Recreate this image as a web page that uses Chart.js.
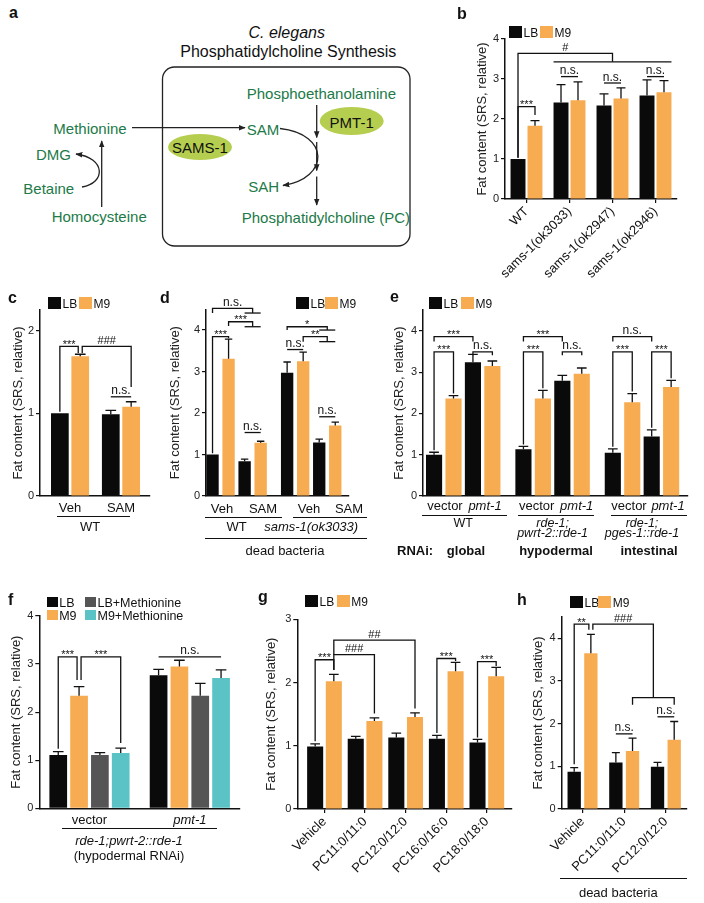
<!DOCTYPE html>
<html>
<head>
<meta charset="utf-8">
<script src="https://cdn.jsdelivr.net/npm/chart.js@4.4.1/dist/chart.umd.min.js"></script>
<style>
  body { margin: 0; background: #fff; }
  #page { position: relative; width: 704px; height: 903px; overflow: hidden;
          font-family: "Liberation Sans", Arial, sans-serif; color: #111; }
  #page canvas { position: absolute; }
  .t { position: absolute; white-space: nowrap; }
  .ln { position: absolute; height: 0; border-top: 1.3px solid #111; }
  .sq { position: absolute; }
</style>
</head>
<body>
<div id="page"></div>
<script>
// ---- data ----
const bCats = ['WT', 'sams-1(ok3033)', 'sams-1(ok2947)', 'sams-1(ok2946)'];
const bLB = [1.0, 2.41, 2.34, 2.59];
const bLBerr = [0, 0.45, 0.29, 0.39];
const bM9 = [1.83, 2.47, 2.51, 2.67];
const bM9err = [0.13, 0.46, 0.27, 0.29];

const cCats = ['Veh', 'SAM'];
const cLB = [1.0, 0.99];
const cLBerr = [0, 0.045];
const cM9 = [1.69, 1.08];
const cM9err = [0.025, 0.06];

const dCats = ['WT', 'sams-1(ok3033)'];
const dVehLB = [1.0, 2.97];
const dVehLBerr = [0, 0.26];
const dVehM9 = [3.31, 3.25];
const dVehM9err = [0.47, 0.22];
const dSamLB = [0.84, 1.29];
const dSamLBerr = [0.05, 0.08];
const dSamM9 = [1.285, 1.70];
const dSamM9err = [0.035, 0.08];

const eCats = ['WT', ['rde-1;', 'pwrt-2::rde-1'], ['rde-1;', 'pges-1::rde-1']];
const eVecLB = [1.0, 1.13, 1.05];
const eVecLBerr = [0.06, 0.07, 0.09];
const eVecM9 = [2.36, 2.36, 2.27];
const eVecM9err = [0.07, 0.2, 0.21];
const ePmtLB = [3.24, 2.79, 1.44];
const ePmtLBerr = [0.19, 0.13, 0.16];
const ePmtM9 = [3.15, 2.96, 2.64];
const ePmtM9err = [0.12, 0.14, 0.16];

const fCats = ['vector', 'pmt-1'];
const fLB = [1.11, 2.77];
const fLBerr = [0.07, 0.12];
const fM9 = [2.34, 2.95];
const fM9err = [0.19, 0.13];
const fLBMet = [1.11, 2.34];
const fLBMeterr = [0.05, 0.26];
const fM9Met = [1.15, 2.71];
const fM9Meterr = [0.10, 0.17];

const gCats = ['Vehicle', 'PC11:0/11:0', 'PC12:0/12:0', 'PC16:0/16:0', 'PC18:0/18:0'];
const gLB = [0.99, 1.11, 1.13, 1.11, 1.05];
const gLBerr = [0.04, 0.04, 0.07, 0.055, 0.05];
const gM9 = [2.02, 1.39, 1.455, 2.18, 2.10];
const gM9err = [0.11, 0.05, 0.065, 0.14, 0.14];

const hCats = ['Vehicle', 'PC11:0/11:0', 'PC12:0/12:0'];
const hLB = [0.87, 1.09, 0.99];
const hLBerr = [0.10, 0.23, 0.10];
const hM9 = [3.65, 1.36, 1.625];
const hM9err = [0.44, 0.30, 0.425];

const yTitle = 'Fat content (SRS, relative)';

// ---- colours ----
const BLACK = '#0a0a0a', ORANGE = '#f8ac52', GRAY = '#555555', TEAL = '#5bc3c6';
const GREEN = '#217a48', LIME = '#b6ce4f';
const F = '"Liberation Sans", Arial, sans-serif';
Chart.defaults.font.family = F;
Chart.defaults.color = '#111';

const page = document.getElementById('page');

// ---- html text helpers ----
function T(x, y, s, o = {}) {
  const el = document.createElement('div');
  el.className = 't';
  el.textContent = s;
  const fs = o.fs || 13;
  el.style.fontSize = fs + 'px';
  el.style.lineHeight = fs + 'px';
  el.style.top = (o.bl ? y - 0.85 * fs : y - fs / 2) + 'px';
  el.style.left = x + 'px';
  if (o.c) el.style.transform = 'translateX(-50%)';
  if (o.i) el.style.fontStyle = 'italic';
  if (o.b) el.style.fontWeight = 'bold';
  if (o.col) el.style.color = o.col;
  page.appendChild(el);
}
function L(x1, x2, y) {
  const el = document.createElement('div');
  el.className = 'ln';
  el.style.left = x1 + 'px';
  el.style.width = (x2 - x1) + 'px';
  el.style.top = y + 'px';
  page.appendChild(el);
}
function key(x, y, col, label, w = 13, h = 12, fs = 12) {
  const el = document.createElement('div');
  el.className = 'sq';
  Object.assign(el.style, { left: x + 'px', top: y + 'px', width: w + 'px', height: h + 'px', background: col });
  page.appendChild(el);
  T(x + w + 1.5, y + h / 2 + 0.5, label, { fs });
}

// ---- bracket / error bar plugin ----
const mid = (p, q) => ({ m: [p, q] });
const br = (A, B, y, yA, yB, t) => ({ paths: [[[A, yA], [A, y], [B, y], [B, yB]]], t, at: mid(A, B), y });
const ln = (A, B, y, t) => ({ paths: [[[A, y], [B, y]]], t, at: mid(A, B), y });
const fork = (A, yA, y, B1, B2, yF, yL, t) => {
  const C = mid(B1, B2);
  const low = yL == null ? [[B1, yF], [B2, yF]] : [[B1, yL], [B1, yF], [B2, yF], [B2, yL]];
  return { paths: [[[A, yA], [A, y], [C, y], [C, yF]], low], t, at: mid(A, C), y };
};

const marks = {
  id: 'marks',
  afterDatasetsDraw(chart) {
    const ctx = chart.ctx, ys = chart.scales.y;
    ctx.save();
    ctx.strokeStyle = '#111';
    ctx.fillStyle = '#111';
    ctx.lineWidth = 1.3;
    chart.data.datasets.forEach((ds, d) => {
      const meta = chart.getDatasetMeta(d);
      ds.err.forEach((e, i) => {
        if (!e) return;
        const b = meta.data[i];
        const top = ys.getPixelForValue(ds.data[i] + e);
        const cw = b.width * 0.6;
        ctx.beginPath();
        ctx.moveTo(b.x, b.y); ctx.lineTo(b.x, top);
        ctx.moveTo(b.x - cw / 2, top); ctx.lineTo(b.x + cw / 2, top);
        ctx.stroke();
      });
    });
    const X = a => {
      if (a.m) return (X(a.m[0]) + X(a.m[1])) / 2;
      const b = chart.getDatasetMeta(a[0]).data[a[1]];
      return b.x + (a[2] || 0) * b.width / 2 + (a[3] || 0);
    };
    (chart.canvas.notes || []).forEach(n => {
      n.paths.forEach(p => {
        ctx.beginPath();
        p.forEach(([a, v], k) => {
          const x = X(a), y = ys.getPixelForValue(v);
          if (k) ctx.lineTo(x, y); else ctx.moveTo(x, y);
        });
        ctx.stroke();
      });
      if (n.t) {
        const star = n.t[0] === '*';
        ctx.font = (n.t[0] === 'n' ? 12 : 11) + 'px ' + F;
        ctx.textAlign = 'center';
        ctx.textBaseline = 'alphabetic';
        ctx.fillText(n.t, X(n.at), ys.getPixelForValue(n.y) + (star ? 1.5 : -2.5));
      }
    });
    ctx.restore();
  }
};

// ---- one chart panel ----
function panel(box, plot, cfg) {
  const cv = document.createElement('canvas');
  cv.width = box.w; cv.height = box.h;
  cv.style.left = box.x + 'px';
  cv.style.top = box.y + 'px';
  cv.notes = cfg.notes;
  page.appendChild(cv);
  const W = cfg.titleOff + 7.8;
  const H = box.y + box.h - plot.b - 2;   // x-scale box runs to the canvas bottom so labels are not clipped
  const pad = {
    left: plot.l - box.x - W,
    top: plot.t - box.y,
    right: box.x + box.w - plot.r,
    bottom: 2
  };
  const xt = cfg.xt || {};
  const padL = cfg.padL || 0, padR = cfg.padR || 0;
  return new Chart(cv, {
    type: 'bar',
    data: {
      labels: cfg.labels,
      datasets: cfg.sets.map(s => ({
        label: s[0], data: s[1], err: s[2], backgroundColor: s[3], borderWidth: 0,
        categoryPercentage: cfg.cat, barPercentage: cfg.bar
      }))
    },
    options: {
      responsive: false, animation: false, devicePixelRatio: 1,
      layout: { padding: pad, autoPadding: false },
      plugins: { legend: { display: false }, tooltip: { enabled: false } },
      scales: {
        x: {
          border: { color: '#111', width: 1.5 },
          grid: { display: !!xt.marks, drawOnChartArea: false, offset: false,
                  drawTicks: !!xt.marks, tickLength: xt.marks ? 4 : 0, color: '#111', lineWidth: 1.2 },
          ticks: {
            autoSkip: false,
            maxRotation: xt.rot || 0, minRotation: xt.rot || 0,
            padding: xt.pad || 2,
            color: '#111',
            font: c => ({ size: xt.fs || 13, family: F, lineHeight: xt.lh || 1.2,
                          style: (xt.ital || []).includes(c.index) ? 'italic' : 'normal' })
          },
          afterFit: s => { s.height = H; },
          afterBuildTicks: s => {
            if (s._startValue !== undefined) { s._startValue -= padL; s._valueRange += padL + padR; }
          }
        },
        y: {
          min: 0, max: cfg.ymax,
          border: { color: '#111', width: 1.5 },
          grid: { drawOnChartArea: false, drawTicks: true, tickLength: 4, color: '#111', lineWidth: 1.2 },
          ticks: { stepSize: 1, includeBounds: false, padding: 2, color: '#222', font: { size: 11, family: F } },
          title: { display: true, text: yTitle, padding: 0, color: '#222', font: { size: 13, family: F } },
          afterFit: s => { s.width = W; }
        }
      }
    },
    plugins: [marks]
  });
}

// ================= panel a (pathway diagram) =================
page.insertAdjacentHTML('beforeend', `
<svg width="440" height="252" style="position:absolute;left:0;top:0">
  <defs>
    <marker id="ah" viewBox="0 0 10 10" refX="9" refY="5" markerWidth="7" markerHeight="7"
            orient="auto" markerUnits="userSpaceOnUse">
      <path d="M0,1 L10,5 L0,9 z" fill="#222"/>
    </marker>
  </defs>
  <rect x="162.5" y="67" width="247.5" height="179" rx="12" fill="none" stroke="#222" stroke-width="1.3"/>
  <ellipse cx="200" cy="147" rx="32" ry="13" fill="${LIME}"/>
  <ellipse cx="351.7" cy="121" rx="32" ry="14" fill="${LIME}"/>
  <g stroke="#222" stroke-width="1.3" fill="none">
    <line x1="132" y1="127.7" x2="245" y2="127.7" marker-end="url(#ah)"/>
    <line x1="101.7" y1="207" x2="101.7" y2="141" marker-end="url(#ah)"/>
    <path d="M82,187 C106,183 106,158 76,154" marker-end="url(#ah)"/>
    <path d="M280,128.5 C330,134 330,178 283,185.5" marker-end="url(#ah)"/>
    <line x1="316.7" y1="105" x2="316.7" y2="137.5" marker-end="url(#ah)"/>
    <line x1="316.7" y1="142" x2="316.7" y2="170.5" marker-end="url(#ah)"/>
    <line x1="316.7" y1="176.5" x2="316.7" y2="205" marker-end="url(#ah)"/>
  </g>
</svg>`);
T(9, 18.3, 'a', { fs: 16, b: true, bl: true });
T(286.7, 39, 'C. elegans', { fs: 16, i: true, c: true, bl: true });
T(288.3, 58, 'Phosphatidylcholine Synthesis', { fs: 16, c: true, bl: true });
T(246.7, 98.5, 'Phosphoethanolamine', { fs: 15, bl: true, col: GREEN });
T(53.3, 134, 'Methionine', { fs: 15, bl: true, col: GREEN });
T(246.7, 134.5, 'SAM', { fs: 15, bl: true, col: GREEN });
T(36, 160, 'DMG', { fs: 15, bl: true, col: GREEN });
T(23.3, 194, 'Betaine', { fs: 15, bl: true, col: GREEN });
T(248.3, 192, 'SAH', { fs: 15, bl: true, col: GREEN });
T(51.7, 222, 'Homocysteine', { fs: 15, bl: true, col: GREEN });
T(241.7, 223, 'Phosphatidylcholine (PC)', { fs: 15, bl: true, col: GREEN });
T(351.7, 127.3, 'PMT-1', { fs: 15, bl: true, c: true });
T(200, 153, 'SAMS-1', { fs: 15, bl: true, c: true });

// ================= panel b =================
panel({ x: 440, y: 0, w: 264, h: 282 }, { l: 505, r: 677, t: 39, b: 199 }, {
  labels: bCats, ymax: 4, titleOff: 23, cat: 0.79, bar: 0.88,
  xt: { rot: 45, marks: true, pad: 1 },
  sets: [['LB', bLB, bLBerr, BLACK], ['M9', bM9, bM9err, ORANGE]],
  notes: [
    br([0, 0], [1, 0], 2.31, 1.03, 2.1, '***'),
    fork([0, 0], 1.03, 3.64, [0, 1, -1], [1, 3, 1], 3.43, null, '#'),
    ln([0, 1], [1, 1], 3.06, 'n.s.'),
    ln([0, 2], [1, 2], 2.9, 'n.s.'),
    ln([0, 3], [1, 3], 3.06, 'n.s.')
  ]
});
T(457, 20, 'b', { fs: 16, b: true, bl: true });
key(509, 26, BLACK, 'LB');
key(540, 26, ORANGE, 'M9');

// ================= panel c =================
panel({ x: 0, y: 285, w: 165, h: 260 }, { l: 40, r: 150, t: 310, b: 496 }, {
  labels: cCats, ymax: 2.25, titleOff: 21.7, cat: 0.8, bar: 0.87, padL: 0.09, padR: 0.07,
  xt: { pad: 4.5 },
  sets: [['LB', cLB, cLBerr, BLACK], ['M9', cM9, cM9err, ORANGE]],
  notes: [
    br([0, 0], [1, 0, 0, -2], 1.81, 1.02, 1.73, '***'),
    br([1, 0, 0, 2], [1, 1], 1.81, 1.73, 1.32, '###'),
    ln([0, 1], [1, 1], 1.20, 'n.s.')
  ]
});
T(8, 304, 'c', { fs: 16, b: true, bl: true });
key(48, 297, BLACK, 'LB');
key(79, 297, ORANGE, 'M9');
L(57, 130, 516);
T(90, 526.5, 'WT', { c: true });

// ================= panel d =================
panel({ x: 160, y: 285, w: 225, h: 260 }, { l: 206, r: 373, t: 309.3, b: 496 }, {
  labels: dCats, ymax: 4.5, titleOff: 30.5, cat: 0.86, bar: 0.77, padL: -0.09, padR: 0,
  xt: { pad: 23.7, ital: [1] },
  sets: [['Veh LB', dVehLB, dVehLBerr, BLACK], ['Veh M9', dVehM9, dVehM9err, ORANGE],
         ['SAM LB', dSamLB, dSamLBerr, BLACK], ['SAM M9', dSamM9, dSamM9err, ORANGE]],
  notes: [
    br([0, 0], [1, 0], 3.84, 1.03, 3.8, '***'),
    fork([1, 0], 4.1, 4.2, [2, 0], [3, 0], 4.08, null, '***'),
    fork([0, 0], 4.41, 4.52, [2, 0], [3, 0], 4.41, null, 'n.s.'),
    ln([2, 0], [3, 0], 1.53, 'n.s.'),
    fork([0, 1], 4.0, 4.08, [2, 1], [3, 1], 4.0, null, '*'),
    fork([1, 1], 3.72, 3.84, [2, 1], [3, 1], 3.72, null, '**'),
    ln([0, 1], [1, 1], 3.53, 'n.s.'),
    ln([2, 1], [3, 1], 1.91, 'n.s.')
  ]
});
T(160, 304, 'd', { fs: 16, b: true, bl: true });
key(296, 297, BLACK, 'LB');
key(325, 297, ORANGE, 'M9');
T(222, 508, 'Veh', { c: true });
T(263, 508, 'SAM', { c: true });
T(309, 508, 'Veh', { c: true });
T(349, 508, 'SAM', { c: true });
L(205, 282, 517);
L(293, 367, 517);
L(205, 367, 538);
T(285, 550, 'dead bacteria', { c: true });

// ================= panel e =================
const eNotes = [];
[0, 1, 2].forEach(g => {
  eNotes.push(br([0, g], [2, g], 3.86, 3.74, 3.74, g === 2 ? 'n.s.' : '***'));
  eNotes.push(br([0, g], [1, g], 3.49, eVecLB[g] + eVecLBerr[g] + 0.05, eVecM9[g] + eVecM9err[g] + 0.05, '***'));
  if (g < 2) eNotes.push(br([2, g], [3, g], 3.49, 3.41, 3.41, 'n.s.'));
  else eNotes.push(br([2, g], [3, g], 3.49, ePmtLB[g] + ePmtLBerr[g] + 0.05, ePmtM9[g] + ePmtM9err[g] + 0.05, '***'));
});
panel({ x: 385, y: 285, w: 319, h: 260 }, { l: 423, r: 695, t: 310.2, b: 496 }, {
  labels: eCats, ymax: 4.5, titleOff: 24, cat: 0.87, bar: 0.83, padL: -0.05, padR: 0.01,
  xt: { pad: 23.3, ital: [1, 2], fs: 12.5, lh: 0.74 },
  sets: [['vector LB', eVecLB, eVecLBerr, BLACK], ['vector M9', eVecM9, eVecM9err, ORANGE],
         ['pmt-1 LB', ePmtLB, ePmtLBerr, BLACK], ['pmt-1 M9', ePmtM9, ePmtM9err, ORANGE]],
  notes: eNotes
});
T(390, 303, 'e', { fs: 16, b: true, bl: true });
key(429, 297, BLACK, 'LB');
key(461, 297, ORANGE, 'M9');
[[445, 485], [536.7, 576.7], [629, 668]].forEach(([v, p]) => {
  T(v, 505, 'vector', { c: true });
  T(p, 505, 'pmt-1', { c: true, i: true });
});
L(422, 507, 515);
L(518, 594, 515);
L(611, 687, 515);
T(397, 550, 'RNAi:', { b: true });
T(466, 550, 'global', { b: true, c: true });
T(556, 550, 'hypodermal', { b: true, c: true });
T(649, 550, 'intestinal', { b: true, c: true });

// ================= panel f =================
panel({ x: 0, y: 585, w: 250, h: 290 }, { l: 39.3, r: 240, t: 616, b: 808.3 }, {
  labels: fCats, ymax: 4, titleOff: 22.6, cat: 0.83, bar: 0.85,
  xt: { pad: 4.7, ital: [1] },
  sets: [['LB', fLB, fLBerr, BLACK], ['M9', fM9, fM9err, ORANGE],
         ['LB+Methionine', fLBMet, fLBMeterr, GRAY], ['M9+Methionine', fM9Met, fM9Meterr, TEAL]],
  notes: [
    br([0, 0], [1, 0, 0, -2], 3.15, 1.24, 2.67, '***'),
    br([1, 0, 0, 2], [3, 0], 3.15, 2.67, 1.36, '***'),
    ln([0, 1], [3, 1], 3.15, 'n.s.')
  ]
});
T(8, 606, 'f', { fs: 16, b: true, bl: true });
key(46.7, 597.3, BLACK, 'LB', 11, 10, 12.5);
key(85, 597.3, GRAY, 'LB+Methionine', 11, 10, 12.5);
key(46.7, 610.3, ORANGE, 'M9', 11, 10, 12.5);
key(85, 610.3, TEAL, 'M9+Methionine', 11, 10, 12.5);
L(61.7, 216.7, 828.3);
T(129, 840, 'rde-1;pwrt-2::rde-1', { c: true, i: true });
T(129, 855, '(hypodermal RNAi)', { c: true });

// ================= panel g =================
panel({ x: 250, y: 585, w: 268, h: 318 }, { l: 297.3, r: 512, t: 619.3, b: 809 }, {
  labels: gCats, ymax: 3, titleOff: 25.6, cat: 0.92, bar: 0.86, padL: 0.17, padR: 0.12,
  xt: { rot: 45, marks: true, pad: 1 },
  sets: [['LB', gLB, gLBerr, BLACK], ['M9', gM9, gM9err, ORANGE]],
  notes: [
    br([0, 0], [1, 0], 2.36, 1.07, 2.2, '***'),
    br([1, 0], [1, 1], 2.44, 2.2, 1.51, '###'),
    br([1, 0], [1, 2], 2.67, 2.44, 1.59, '##'),
    br([0, 3], [1, 3], 2.38, 1.2, 2.34, '***'),
    br([0, 4], [1, 4], 2.33, 1.13, 2.26, '***')
  ]
});
T(258, 603, 'g', { fs: 16, b: true, bl: true });
key(305, 595, BLACK, 'LB');
key(336.7, 595, ORANGE, 'M9');

// ================= panel h =================
panel({ x: 515, y: 585, w: 189, h: 318 }, { l: 561.7, r: 686.7, t: 616.9, b: 809 }, {
  labels: hCats, ymax: 4.5, titleOff: 23.7, cat: 0.8, bar: 0.8,
  xt: { rot: 45, marks: true, pad: 1 },
  sets: [['LB', hLB, hLBerr, BLACK], ['M9', hM9, hM9err, ORANGE]],
  notes: [
    br([0, 0], [1, 0, 0, -2], 4.33, 1.05, 4.2, '**'),
    fork([1, 0, 0, 2], 4.2, 4.33, [1, 1], [1, 2], 2.61, 2.44, '###'),
    ln([0, 1], [1, 1], 1.76, 'n.s.'),
    ln([0, 2], [1, 2], 2.16, 'n.s.')
  ]
});
T(517, 606, 'h', { fs: 16, b: true, bl: true });
key(570, 596, BLACK, 'LB');
key(598.3, 596, ORANGE, 'M9');
L(560, 686.7, 878.3);
T(618.3, 892, 'dead bacteria', { c: true });
</script>
</body>
</html>
